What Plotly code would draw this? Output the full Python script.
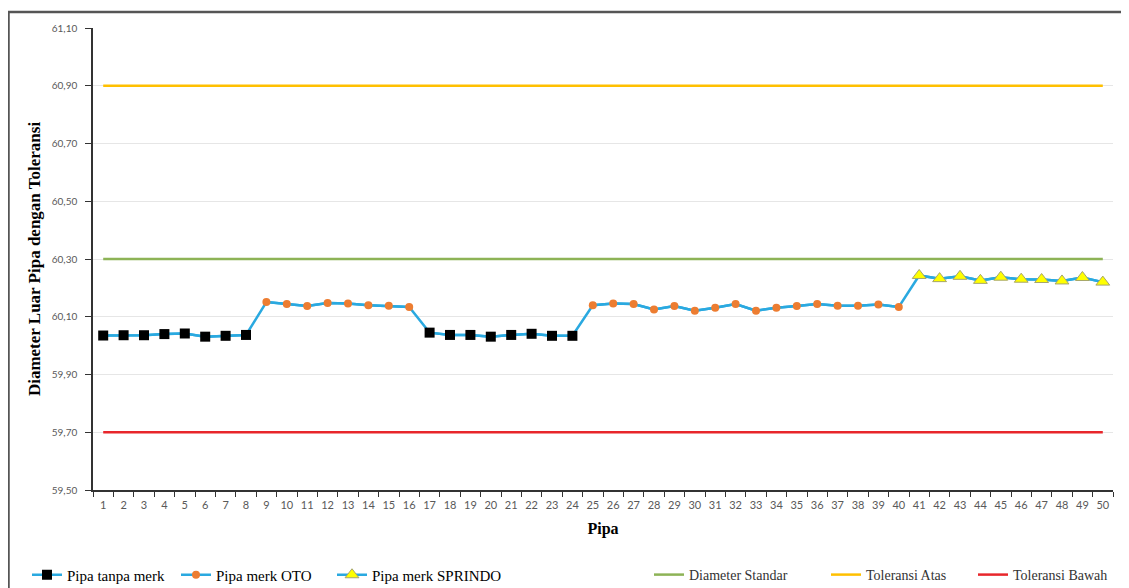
import plotly.graph_objects as go

# ---------------- data ----------------
pipa = [str(i) for i in range(1, 51)]

# Pipa tanpa merk (pipes 1-8 and 17-24)
tanpa_merk_idx = list(range(1, 9)) + list(range(17, 25))
tanpa_merk_val = [60.035, 60.036, 60.036, 60.040, 60.042, 60.031, 60.034, 60.037,
                  60.045, 60.037, 60.037, 60.031, 60.037, 60.041, 60.034, 60.034]

# Pipa merk OTO (pipes 9-16 and 25-40)
oto_idx = list(range(9, 17)) + list(range(25, 41))
oto_val = [60.151, 60.144, 60.137, 60.148, 60.146, 60.140, 60.138, 60.134,
           60.140, 60.146, 60.144, 60.125, 60.137, 60.121, 60.131, 60.144,
           60.121, 60.131, 60.137, 60.144, 60.138, 60.138, 60.142, 60.134]

# Pipa merk SPRINDO (pipes 41-50)
sprindo_idx = list(range(41, 51))
sprindo_val = [60.243, 60.232, 60.240, 60.226, 60.237, 60.230, 60.229, 60.224, 60.236, 60.220]

DIAMETER_STANDAR = 60.30
TOLERANSI_ATAS = 60.90
TOLERANSI_BAWAH = 59.70

y_ticks = [59.50, 59.70, 59.90, 60.10, 60.30, 60.50, 60.70, 60.90, 61.10]

# ---------------- helpers ----------------
def full_series(idx, vals):
    m = dict(zip(idx, vals))
    return [m.get(i, None) for i in range(1, 51)]

all_vals = full_series(tanpa_merk_idx + oto_idx + sprindo_idx,
                       tanpa_merk_val + oto_val + sprindo_val)

LINE_BLUE = "#2AA9E0"
SERIF = "Liberation Serif"
SANS = "Lato"

W, H = 1121, 588
# plot area in figure pixels
PX_L, PX_R, PX_T, PX_B = 85, 1105, 20, 482
def px_x(p):
    return (p - PX_L) / (PX_R - PX_L)
def px_y(p):
    return (PX_B - p) / (PX_B - PX_T)

fig = go.Figure()

# reference lines
fig.add_trace(go.Scatter(x=pipa, y=[DIAMETER_STANDAR] * len(pipa), mode="lines",
                         name="Diameter Standar", line=dict(color="#8DB356", width=2.5),
                         legend="legend4"))
fig.add_trace(go.Scatter(x=pipa, y=[TOLERANSI_ATAS] * len(pipa), mode="lines",
                         name="Toleransi Atas", line=dict(color="#FFC000", width=2.5),
                         legend="legend5"))
fig.add_trace(go.Scatter(x=pipa, y=[TOLERANSI_BAWAH] * len(pipa), mode="lines",
                         name="Toleransi Bawah", line=dict(color="#E8262B", width=2.5),
                         legend="legend6"))

# connecting line through all pipes
fig.add_trace(go.Scatter(x=pipa, y=all_vals, mode="lines", showlegend=False,
                         line=dict(color=LINE_BLUE, width=2.5), hoverinfo="skip"))

fig.add_trace(go.Scatter(x=pipa, y=full_series(tanpa_merk_idx, tanpa_merk_val),
                         mode="lines+markers", name="Pipa tanpa merk",
                         line=dict(color=LINE_BLUE, width=2.5),
                         marker=dict(symbol="square", size=10, color="#000000"),
                         legend="legend"))
fig.add_trace(go.Scatter(x=pipa, y=full_series(oto_idx, oto_val),
                         mode="lines+markers", name="Pipa merk OTO",
                         line=dict(color=LINE_BLUE, width=2.5),
                         marker=dict(symbol="circle", size=8, color="#ED7D31"),
                         legend="legend2"))
fig.add_trace(go.Scatter(x=pipa, y=full_series(sprindo_idx, sprindo_val),
                         mode="lines+markers", name="Pipa merk SPRINDO",
                         line=dict(color=LINE_BLUE, width=2.5),
                         marker=dict(symbol="triangle-up", size=12, color="#FFFF00",
                                     line=dict(color="#A6A66A", width=1)),
                         legend="legend3"))

legend_y = px_y(567)
def leg(px, size, color):
    return dict(x=px_x(px), y=legend_y, xanchor="left", yanchor="middle",
                orientation="h", bgcolor="rgba(0,0,0,0)",
                font=dict(family=SERIF, size=size, color=color))

fig.update_layout(
    width=W, height=H,
    margin=dict(l=PX_L, r=W - PX_R, t=PX_T, b=H - PX_B, autoexpand=False),
    paper_bgcolor="white", plot_bgcolor="white",
    separators=", ",
    showlegend=True,
    legend=leg(19, 15, "#000000"),
    legend2=leg(168, 15, "#000000"),
    legend3=leg(324, 15, "#000000"),
    legend4=leg(641, 14, "#333333"),
    legend5=leg(818, 14, "#333333"),
    legend6=leg(965, 14, "#333333"),
    xaxis=dict(
        type="category", range=[-0.5, 49.5],
        showline=True, linecolor="#333333", linewidth=1.5,
        ticks="outside", ticklen=5, tickcolor="#333333", tickwidth=1,
        tickson="boundaries", showgrid=False, tickangle=0,
        ticklabelstandoff=4,
        tickfont=dict(family=SANS, size=11, color="#595959"),
        title=dict(text="<b>Pipa</b>", font=dict(family=SERIF, size=16, color="#000000"),
                   standoff=13),
    ),
    yaxis=dict(
        range=[59.5, 61.1], tickvals=y_ticks, tickformat=".2f",
        showline=True, linecolor="#333333", linewidth=1.5,
        ticks="outside", ticklen=6, tickcolor="#333333",
        ticklabelstandoff=6,
        showgrid=True, gridcolor="#E6E6E6", gridwidth=1, zeroline=False,
        tickfont=dict(family=SANS, size=10, color="#595959"),
        title=dict(text="<b>Diameter Luar Pipa dengan Toleransi</b>",
                   font=dict(family=SERIF, size=17, color="#000000"), standoff=7),
    ),
    shapes=[
        dict(type="line", xref="paper", yref="paper", x0=px_x(0), x1=px_x(1117),
             y0=px_y(4), y1=px_y(4), line=dict(color="#555555", width=2.5)),
        dict(type="line", xref="paper", yref="paper", x0=px_x(0.5), x1=px_x(0.5),
             y0=px_y(4), y1=px_y(600), line=dict(color="#555555", width=2.5)),
        dict(type="line", xref="paper", yref="paper", x0=px_x(1117), x1=px_x(1117),
             y0=px_y(4), y1=px_y(600), line=dict(color="#C8C8C8", width=1.5)),
    ],
)

fig.write_html("out.html")
